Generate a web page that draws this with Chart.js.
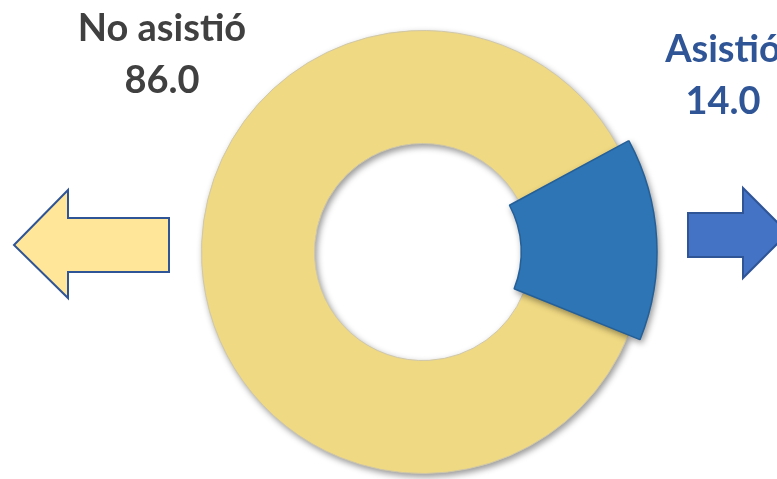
<!DOCTYPE html>
<html>
<head>
<meta charset="utf-8">
<script src="https://cdn.jsdelivr.net/npm/chart.js@4.4.1/dist/chart.umd.min.js"></script>
<style>
  html, body { margin: 0; padding: 0; background: #fff; }
  #wrap { position: relative; width: 777px; height: 479px; overflow: hidden; }
  #wrap canvas, #wrap svg { position: absolute; left: 0; top: 0; }
  #wrap canvas { filter: drop-shadow(2px 3px 3px rgba(0,0,0,0.4)); }
  .etiqueta {
      position: absolute; width: 200px; margin-left: -100px;
      font: bold 38px Lato; text-align: center; line-height: 52px;
  }
</style>
</head>
<body>
<div id="wrap">
  <svg width="777" height="479">
    <!-- flechas decorativas -->
    <polygon points="14,245 68,190 68,218 169,218 169,272 68,272 68,298"
             fill="#FFE699" stroke="#2F5597" stroke-width="2" />
    <polygon points="688,213 743,213 743,188 788,233 743,278 743,257 688,257"
             fill="#4472C4" stroke="#2F5597" stroke-width="2" />
  </svg>
  <canvas id="chartBase" width="777" height="479"></canvas>
  <canvas id="chartAsistio" width="777" height="479"></canvas>
</div>
<script>
// datos del gráfico
const categorias = ["No asistió", "Asistió"];
const valores = [86.0, 14.0];
const colores = ["#F0D983", "#2E75B6"];
const coloresTexto = ["#404040", "#2F5597"];

const rotacion = 112;
const padding = { left: 201, right: 132, top: 30, bottom: 5 };

// etiquetas (centro x, línea superior)
const posEtiquetas = [[162, 0], [723, 21]];
const wrap = document.getElementById("wrap");
categorias.forEach((c, i) => {
    const div = document.createElement("div");
    div.className = "etiqueta";
    div.style.left = posEtiquetas[i][0] + "px";
    div.style.top = posEtiquetas[i][1] + "px";
    div.style.color = coloresTexto[i];
    div.innerHTML = c + "<br>" + valores[i].toFixed(1);
    wrap.appendChild(div);
});

const opcionesBase = {
    responsive: false,
    animation: false,
    rotation: rotacion,
    layout: { padding: padding },
    plugins: { legend: { display: false }, tooltip: { enabled: false } }
};

// anillo amarillo (la porción "Asistió" queda transparente)
new Chart(document.getElementById("chartBase"), {
    type: "doughnut",
    data: {
        labels: categorias,
        datasets: [{
            data: valores,
            backgroundColor: [colores[0], "rgba(0,0,0,0)"],
            borderColor: ["#CFC7A8", "rgba(0,0,0,0)"],
            borderWidth: 1
        }]
    },
    options: { ...opcionesBase, cutout: "49%" }
});

// porción azul, más gruesa que el anillo
new Chart(document.getElementById("chartAsistio"), {
    type: "doughnut",
    data: {
        labels: categorias,
        datasets: [{
            data: valores,
            backgroundColor: ["rgba(0,0,0,0)", colores[1]],
            borderColor: ["rgba(0,0,0,0)", "#245F97"],
            borderWidth: 1.5
        }]
    },
    options: { ...opcionesBase, radius: 234, cutout: "42%" }
});
</script>
</body>
</html>
